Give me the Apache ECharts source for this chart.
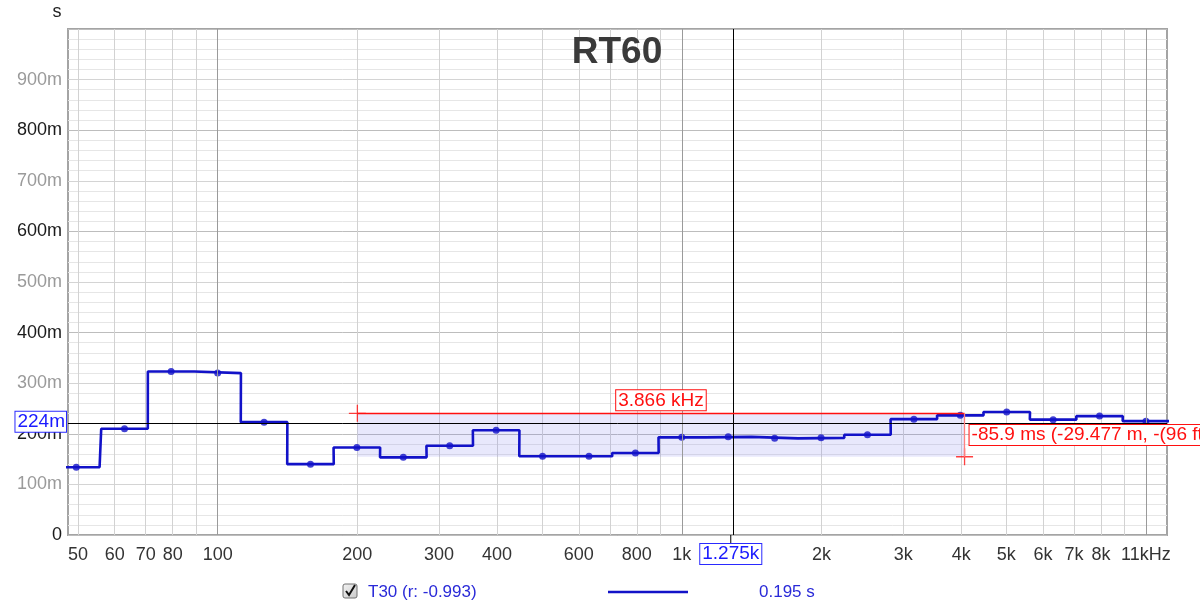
<!DOCTYPE html>
<html><head><meta charset="utf-8">
<script src="https://cdn.jsdelivr.net/npm/echarts@6/dist/echarts.min.js"></script>
<style>html,body{margin:0;padding:0;background:#fff}#c{width:1200px;height:613px}</style>
</head><body><div id="c"></div><script>
// ---- data ----
const bandCenters = [49.6, 63.0, 79.4, 100, 125.9, 158.5, 199.5, 251.2, 316.2, 398.1, 501.2, 631.0, 794.3, 1000, 1258.9, 1584.9, 1995.3, 2511.9, 3162.3, 3981.1, 5011.9, 6309.6, 7943.3, 10000];
const rt60 = [0.134, 0.210, 0.323, 0.320, 0.223, 0.140, 0.173, 0.1535, 0.1765, 0.207, 0.1555, 0.1555, 0.162, 0.193, 0.194, 0.191, 0.192, 0.198, 0.229, 0.2365, 0.243, 0.228, 0.235, 0.225];
const gridFreqs = [50,60,70,80,90,100,200,300,400,500,600,700,800,900,1000,2000,3000,4000,5000,6000,7000,8000,9000,10000];
const majorFreqs = [100,1000,10000];
const labelFreqs = [50,60,70,80,100,200,300,400,600,800,1000,2000,3000,4000,5000,6000,7000,8000,10000];
const labelTexts = ['50','60','70','80','100','200','300','400','600','800','1k','2k','3k','4k','5k','6k','7k','8k','11kHz'];
const xMinFreq = 47.6, xMaxFreq = 11100;
const cursorFreq = 1275, cursorVal = 0.224;
const cursorFreqText = '1.275k', cursorValText = '224m';
const selStartFreq = 200, selEndFreq = 4066, selTop = 0.2405, selBottom = 0.1546;
const selWidthText = '3.866 kHz';
const selHeightText = '-85.9 ms (-29.477 m, -(96 ft))';
const legendName = 'T30 (r: -0.993)', legendValue = '0.195 s';

// ---- helpers ----
const lx = f => Math.log10(f);
const BLUE = '#1212c8';
const RED = '#ff1010';
const FONT = 'Liberation Sans, Arial, sans-serif';
const half = Math.pow(2, 1/6);
const stepData = [];
bandCenters.forEach((c, i) => { stepData.push([lx(c/half), rt60[i]]); stepData.push([lx(c*half), rt60[i]]); });
const dotData = bandCenters.map((c, i) => [lx(c), rt60[i]]);
function labelFor(v){ for (let i=0;i<labelFreqs.length;i++){ if (Math.abs(lx(labelFreqs[i])-v)<1e-6) return labelTexts[i]; } return ''; }

const chart = echarts.init(document.getElementById('c'), null, {renderer:'canvas'});
const G = {left:68, right:33, top:29, bottom:78};
const option = {
  animation:false,
  backgroundColor:'#fff',
  title:{text:'RT60', left:612, top:29, textAlign:'center', textStyle:{fontFamily:FONT, fontSize:37, fontWeight:'bold', color:'#3a3a3a'}},
  grid:{left:G.left, right:G.right, top:G.top, bottom:G.bottom, show:true, borderColor:'#a4a4a4', borderWidth:2, backgroundColor:'#fff'},
  xAxis:{type:'value', min:lx(xMinFreq), max:lx(xMaxFreq),
    axisLine:{show:false},
    axisTick:{show:false, customValues: gridFreqs.map(lx)},
    axisLabel:{customValues: labelFreqs.map(lx), formatter: v => labelFor(v), fontFamily:FONT, fontSize:18, color:'#333', margin:11, showMinLabel:true, showMaxLabel:true, hideOverlap:false},
    splitLine:{show:true, lineStyle:{color:'#d2d2d2', width:1}}
  },
  yAxis:{type:'value', min:0, max:1, interval:0.1,
    axisLine:{show:false}, axisTick:{show:false},
    axisLabel:{showMaxLabel:false, fontFamily:FONT, fontSize:18, margin:6,
      formatter: v => v===0 ? '0' : Math.round(v*1000)+'m',
      color: (v) => (Math.round(Number(v)*10)%2===0 ? '#1a1a1a' : '#9a9a9a')},
    splitLine:{show:true, lineStyle:{color:['#bdbdbd','#d4d4d4'], width:1}},
    minorTick:{show:false, splitNumber:5},
    minorSplitLine:{show:true, lineStyle:{color:'#e6e6e6', width:1}}
  },
  series:[
    {type:'line', name:'grid', data:[], z:1, silent:true,
      markLine:{silent:true, symbol:'none', label:{show:false}, lineStyle:{color:'#9a9a9a', width:1, type:'solid'},
        data: majorFreqs.map(f => ({xAxis: lx(f)}))}},
    {type:'line', name:'T30', data:stepData, showSymbol:false, z:3, clip:true,
      lineStyle:{color:BLUE, width:2.6}, itemStyle:{color:BLUE},
      markLine:{silent:true, symbol:'none', label:{show:false}, lineStyle:{color:'#000', width:1, type:'solid'},
        data:[{yAxis:cursorVal}, {xAxis:lx(cursorFreq)}]}},
    {type:'scatter', name:'pts', data:dotData, symbol:'circle', symbolSize:7, z:4, itemStyle:{color:BLUE}},
    {type:'line', name:'sel', data:[], z:6, silent:true,
      markArea:{silent:true, itemStyle:{color:'rgba(110,110,235,0.16)'},
        data:[[{coord:[lx(selStartFreq), selTop]}, {coord:[lx(selEndFreq), selBottom]}]]}},
    {type:'scatter', name:'cross', z:8, silent:true, symbol:'path://M0 10 L20 10 M10 0 L10 20', symbolSize:17,
      itemStyle:{color:'none', borderColor:RED, borderWidth:1.3},
      data:[[lx(selStartFreq), selTop],[lx(selEndFreq), selBottom]],
      markLine:{silent:true, symbol:'none', label:{show:false}, z:9, lineStyle:{color:RED, width:1.3, type:'solid'},
        data:[
          [{coord:[lx(selStartFreq), selTop]}, {coord:[lx(selEndFreq), selTop]}],
          [{coord:[lx(selEndFreq), selTop]}, {coord:[lx(selEndFreq), selBottom], lineStyle:{color:'#ff8080'}}]
        ]}}
  ]
};
chart.setOption(option);

function place(){
  const pCur = chart.convertToPixel({gridIndex:0}, [lx(cursorFreq), cursorVal]);
  const pS = chart.convertToPixel({gridIndex:0}, [lx(selStartFreq), selTop]);
  const pE = chart.convertToPixel({gridIndex:0}, [lx(selEndFreq), selBottom]);
  const bottomY = 613 - G.bottom;
  chart.setOption({graphic:[
    {type:'text', z:100, style:{x:G.left-2, y:pCur[1], text:cursorValText, align:'right', verticalAlign:'middle', font:'19px '+FONT, fill:'#1a1aff', backgroundColor:'#fff', borderColor:'#2a2aff', borderWidth:1, padding:[1,1,0,2]}},
    {type:'text', z:100, style:{x:pCur[0], y:bottomY+19, text:cursorFreqText, align:'center', verticalAlign:'middle', font:'19px '+FONT, fill:'#1a1aff', backgroundColor:'#fff', borderColor:'#2a2aff', borderWidth:1, padding:[1,2,0,2]}},
    {type:'line', z:99, shape:{x1:pCur[0], y1:bottomY, x2:pCur[0], y2:bottomY+8}, style:{stroke:'#000', lineWidth:1}},
    {type:'text', z:100, style:{x:(pS[0]+pE[0])/2, y:pS[1]-3, text:selWidthText, align:'center', verticalAlign:'bottom', font:'19px '+FONT, fill:RED, backgroundColor:'#fff', borderColor:RED, borderWidth:1, padding:[1,2,0,2]}},
    {type:'text', z:100, style:{x:pE[0]+5, y:(pS[1]+pE[1])/2, text:selHeightText, align:'left', verticalAlign:'middle', font:'19px '+FONT, fill:RED, backgroundColor:'#fff', borderColor:RED, borderWidth:1, padding:[1,2,0,2]}},
    {type:'text', z:100, style:{x:57, y:12, text:'s', align:'center', verticalAlign:'middle', font:'18px '+FONT, fill:'#222'}},
    // legend
    {type:'rect', z:100, shape:{x:343, y:584, width:14, height:14, r:2}, style:{fill:new echarts.graphic.LinearGradient(0,0,1,1,[{offset:0,color:'#f4f4f4'},{offset:1,color:'#c8c8c8'}]), stroke:'#707070', lineWidth:1}},
    {type:'polyline', z:101, shape:{points:[[346,591],[349,595],[355,585]]}, style:{stroke:'#111', lineWidth:2, fill:null}},
    {type:'text', z:100, style:{x:368, y:592, text:legendName, align:'left', verticalAlign:'middle', font:'17px '+FONT, fill:'#2a2ad8'}},
    {type:'line', z:100, shape:{x1:608, y1:592, x2:688, y2:592}, style:{stroke:BLUE, lineWidth:2.6}},
    {type:'text', z:100, style:{x:759, y:592, text:legendValue, align:'left', verticalAlign:'middle', font:'17px '+FONT, fill:'#2a2ad8'}}
  ]});
}
place();
</script></body></html>
